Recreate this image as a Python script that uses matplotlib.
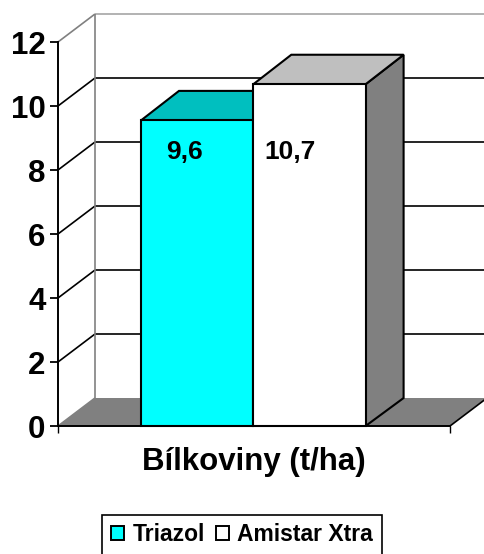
import matplotlib
matplotlib.use("Agg")
import matplotlib.pyplot as plt
from matplotlib.patches import Polygon, Patch, Rectangle

plt.rcParams['font.family'] = ['Liberation Sans', 'DejaVu Sans']
plt.rcParams['font.weight'] = 'bold'

series = ['Triazol', 'Amistar Xtra']
values = [9.55, 10.68]
labels = ['9,6', '10,7']
category = 'Bílkoviny (t/ha)'
yticks = [0, 2, 4, 6, 8, 10, 12]
front_colors = ['#00FFFF', '#FFFFFF']
top_colors = ['#00BFBF', '#BFBFBF']
side_color = '#808080'

W, H = 484, 554
fig = plt.figure(figsize=(W/100, H/100), dpi=100)
L, R, T, B = 58, 450, 42, 426
ax = fig.add_axes([L/W, 1-B/H, (R-L)/W, (B-T)/H])
ax.set_xlim(0, 1)
ax.set_ylim(0, 12)
ax.patch.set_visible(False)
for s in ['top', 'right']:
    ax.spines[s].set_visible(False)
for s in ['left', 'bottom']:
    ax.spines[s].set_linewidth(1.4)
    ax.spines[s].set_zorder(6)

DX = 37/(R-L)
DY = 28/((B-T)/12)
BDX = 38/(R-L)
BDY = 29.5/((B-T)/12)
GRAY = '#808080'

def poly(pts, fc, ec='black', lw=1.5, z=3):
    ax.add_patch(Polygon(pts, closed=True, fc=fc, ec=ec, lw=lw, zorder=z,
                         clip_on=False, joinstyle='miter'))

def line(xs, ys, color='black', lw=1.2, z=1):
    ax.plot(xs, ys, color=color, lw=lw, zorder=z, clip_on=False, solid_capstyle='butt')

# walls, gridlines
for v in yticks[1:]:
    c = GRAY if v == 12 else 'black'
    line([0, DX], [v, v+DY], c)
    line([DX, 1+DX], [v+DY, v+DY], '#A6A6A6' if v == 12 else 'black')
line([DX, DX], [DY, 12+DY], GRAY, 1.2)

# floor
poly([(0, 0), (DX, DY), (1+DX, DY), (1, 0)], GRAY, ec='none', lw=0, z=2)
line([0, DX], [0, DY], GRAY, 1.2, 2.5)
line([1, 1+DX], [0, DY], 'black', 1.2, 2.5)

# bars
gap = (141-L)/(R-L)
bw = 112.3/(R-L)
label_frac = [0.39, 0.33]
label_drop = [0.62, 1.75]
for i, (v, fc, tc) in enumerate(zip(values, front_colors, top_colors)):
    x0 = gap + i*bw
    x1 = x0 + bw
    z = 3 + i*0.5
    poly([(x1, 0), (x1+BDX, DY), (x1+BDX, v+BDY), (x1, v)], side_color, z=z)
    poly([(x0, v), (x0+BDX, v+BDY), (x1+BDX, v+BDY), (x1, v)], tc, z=z)
    poly([(x0, 0), (x0, v), (x1, v), (x1, 0)], fc, z=z+0.1)
    ax.text(x0 + bw*label_frac[i], v-label_drop[i], labels[i], ha='center', va='top',
            fontsize=19, fontweight='bold', zorder=7, color='black')

ax.set_yticks(yticks)
ax.tick_params(axis='y', labelsize=22.5, width=1.3, length=6, pad=3, color='black')
ax.set_xticks([0, 1])
ax.set_xticklabels([])
ax.tick_params(axis='x', width=1.0, length=5, direction='out')
for t in ax.get_yticklabels():
    t.set_fontweight('bold')
ax.text(0.5, -0.095, category, transform=ax.transAxes, ha='center', va='center',
        fontsize=22.5, fontweight='bold')

# legend box runs past the lower edge of the picture, as in the reference
fig.add_artist(Rectangle((102/W, 1-560/H), 280/W, 45/H, transform=fig.transFigure,
                         fc='white', ec='black', lw=1.2))
handles = [Patch(fc=c, ec='black', lw=1.4) for c in front_colors]
leg = fig.legend(handles, series, loc='center', bbox_to_anchor=(242/W, 1-534.5/H),
                 ncol=2, frameon=False, prop={'size': 16.5, 'weight': 'bold'},
                 handlelength=0.57, handleheight=0.57, handletextpad=0.35,
                 columnspacing=0.48, borderpad=0, borderaxespad=0)
leg.set_zorder(5)
fig.savefig('out.png', dpi=100)
